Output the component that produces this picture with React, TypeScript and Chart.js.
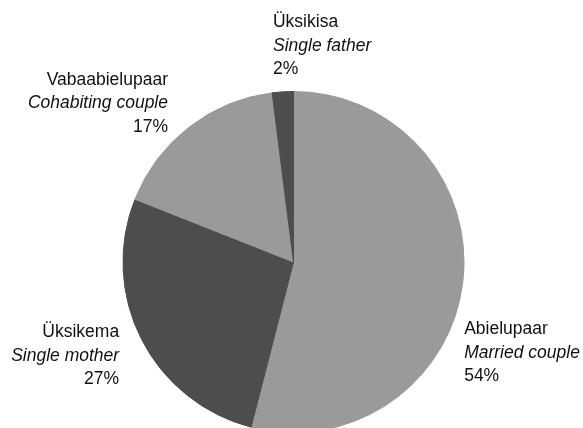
import React, { useEffect, useRef } from "react";
import { Chart, registerables } from "chart.js";

Chart.register(...registerables);

const categories = ["Abielupaar", "Üksikema", "Vabaabielupaar", "Üksikisa"];
const categoriesEn = ["Married couple", "Single mother", "Cohabiting couple", "Single father"];
const values = [54, 27, 17, 2];
const colors = ["#9a9a9a", "#4d4d4d", "#9a9a9a", "#4d4d4d"];

// label layout: offset from the arc's outer mid-point, and alignment
const labelOffsets = [
  { dx: 1, dy: 50.5, align: "left" },
  { dx: -22, dy: -2.6, align: "right" },
  { dx: -20.7, dy: -42, align: "right" },
  { dx: -9.8, dy: -64.3, align: "left" },
];

const FONT_FAMILY = '"Liberation Sans", Arial, Helvetica, sans-serif';
const FONT_SIZE = 17.5;
const LINE_H = 23.6;

const labelPlugin = {
  id: "outerLabels",
  afterDraw(chart: any) {
    const ctx = chart.ctx;
    const meta = chart.getDatasetMeta(0);
    ctx.save();
    ctx.fillStyle = "#111";
    ctx.textBaseline = "alphabetic";
    meta.data.forEach((arc: any, i: number) => {
      const p = arc.getProps(["x", "y", "startAngle", "endAngle", "outerRadius"], true);
      const mid = (p.startAngle + p.endAngle) / 2;
      const r = p.outerRadius + 0.5;
      const ax = p.x + Math.cos(mid) * r + labelOffsets[i].dx;
      const ay = p.y + Math.sin(mid) * r + labelOffsets[i].dy;
      ctx.textAlign = labelOffsets[i].align;
      const lines = [
        { t: categories[i], italic: false },
        { t: categoriesEn[i], italic: true },
        { t: `${values[i]}%`, italic: false },
      ];
      lines.forEach((ln, k) => {
        ctx.font = `${ln.italic ? "italic " : ""}${FONT_SIZE}px ${FONT_FAMILY}`;
        ctx.fillText(ln.t, ax, ay + k * LINE_H);
      });
    });
    ctx.restore();
  },
};

export default function App() {
  const ref = useRef<HTMLCanvasElement | null>(null);
  useEffect(() => {
    if (!ref.current) return;
    const chart = new Chart(ref.current, {
      type: "pie",
      data: {
        labels: categories,
        datasets: [
          {
            data: values,
            backgroundColor: colors,
            borderColor: colors,
            borderWidth: 1,
          },
        ],
      },
      options: {
        responsive: false,
        animation: false,
        devicePixelRatio: 1,
        layout: { padding: { left: 122.5, right: 118.5, top: 91, bottom: 91 } },
        plugins: {
          legend: { display: false },
          tooltip: { enabled: false },
        },
      },
      plugins: [labelPlugin],
    });
    return () => chart.destroy();
  }, []);
  return (
    <div
      style={{
        position: "fixed",
        left: 0,
        top: 0,
        width: 583,
        height: 428,
        overflow: "hidden",
        background: "#fff",
      }}
    >
      <canvas ref={ref} width={583} height={524} style={{ display: "block", width: 583, height: 524 }} />
    </div>
  );
}
